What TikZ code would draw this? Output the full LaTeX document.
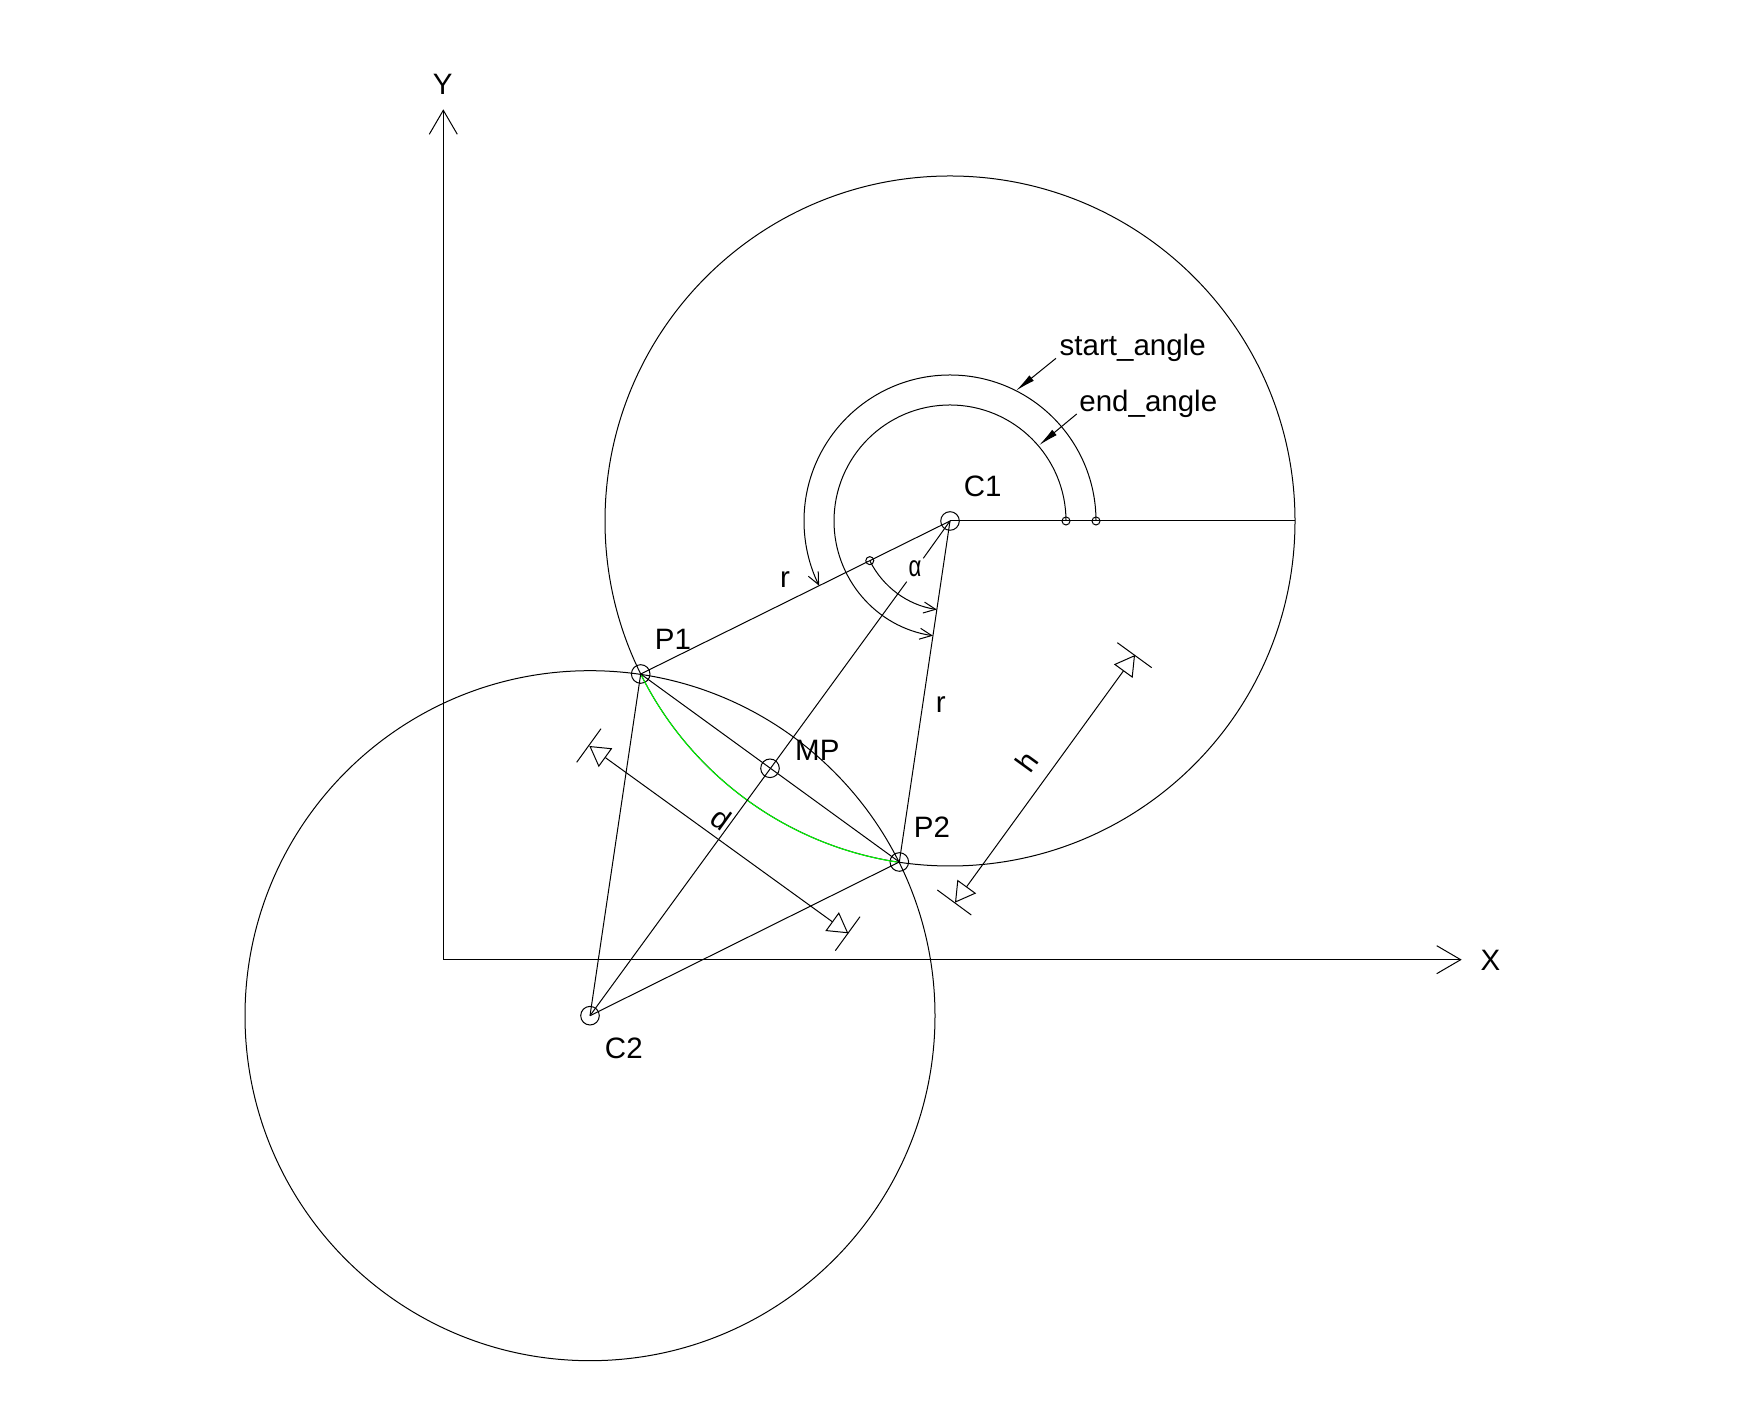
\documentclass[tikz,border=0pt]{standalone}
\usepackage{fontspec}
\setmainfont{Liberation Sans}
\usetikzlibrary{arrows.meta,calc}
\tikzset{
  ln/.style={line width=1pt,black},
  lbl/.style={inner sep=0pt,font=\fontsize{29.5}{32}\selectfont},
  pt/.style={draw,ln,circle,inner sep=0pt,minimum size=18.6pt},
  minipt/.style={draw,ln,circle,inner sep=0pt,minimum size=8pt},
  axisarrow/.style={ln,-{Straight Barb[length=24pt,width=28pt,line width=1pt]}},
  arcarrow/.style={ln,-{Straight Barb[length=12pt,width=11pt,line width=1pt]}},
  leader/.style={ln,-{Latex[length=20pt,width=7pt]}},
  dimarrow/.style={ln,{Triangle[open,length=20pt,width=23pt,line width=1pt]}-{Triangle[open,length=20pt,width=23pt,line width=1pt]}}
}
\begin{document}
\begin{tikzpicture}[x=1pt,y=1pt]
\useasboundingbox[fill=white] (0,0) rectangle (1747,1426);
% points
\coordinate (O) at (443.3,466.3);
\coordinate (Ytip) at (443.3,1316.7);
\coordinate (Xtip) at (1461.7,466.3);
\coordinate (E) at (1295,905);
\node[pt] (C1) at (950,905) {};
\node[pt] (C2) at (590,410.3) {};
\node[pt] (P1) at (640.7,752) {};
\node[pt] (P2) at (899.3,564) {};
\node[pt] (MP) at (770,657.7) {};
\node[minipt] (S1) at (1096,905) {};
\node[minipt] (S2) at (1066,905) {};
\node[minipt] (S3) at ($(C1.center)+(206.3:89.5)$) {};
% axes
\draw[axisarrow] (O) -- (Ytip);
\draw[axisarrow] (O) -- (Xtip);
% main circles
\draw[ln] (C1.center) circle (345);
\draw[ln] (C2.center) circle (345);
% green arc
\draw[line width=1pt,color={rgb,255:red,0;green,255;blue,0}] (P1.center) arc[start angle=206.3,end angle=261.5,radius=345];
% radii and chords
\draw[ln] (C1.center) -- (E);
\draw[ln] (C1.center) -- (P1.center);
\draw[ln] (C1.center) -- (P2.center);
\draw[ln] (C2.center) -- (P1.center);
\draw[ln] (C2.center) -- (P2.center);
\draw[ln] (P1.center) -- (P2.center);
\coordinate (G1) at (906.7,844.3);
\coordinate (G2) at (923.3,867.7);
\draw[ln] (C2.center) -- (G1);
\draw[ln] (G2) -- (C1.center);
% angle arcs
\draw[arcarrow] (S1.center) arc[start angle=0,end angle=206.3,radius=146];
\draw[arcarrow] (S2.center) arc[start angle=0,end angle=261.5,radius=116];
\draw[arcarrow] (S3.center) arc[start angle=206.3,end angle=261.5,radius=89.5];
% leaders
\coordinate (LA) at (1056,1067.7);
\coordinate (LAt) at (1016,1035.3);
\coordinate (LB) at (1076.7,1012);
\coordinate (LBt) at (1039,980.7);
\draw[leader] (LA) -- (LAt);
\draw[leader] (LB) -- (LBt);
% dimension d
\coordinate (D1) at (589.3,680);
\coordinate (D2) at (848.3,492.7);
\coordinate (D1a) at (601,697.3);
\coordinate (D1b) at (576.7,663.7);
\coordinate (D2a) at (860,509.3);
\coordinate (D2b) at (835.3,475.3);
\draw[dimarrow] (D1) -- (D2);
\draw[ln] (D1a) -- (D1b);
\draw[ln] (D2a) -- (D2b);
% dimension h
\coordinate (H1) at (1135,771);
\coordinate (H2) at (955,523.3);
\coordinate (H1a) at (1117.3,783.3);
\coordinate (H1b) at (1151.7,758.3);
\coordinate (H2a) at (937.3,536);
\coordinate (H2b) at (971.3,511);
\draw[dimarrow] (H1) -- (H2);
\draw[ln] (H1a) -- (H1b);
\draw[ln] (H2a) -- (H2b);
% labels
\node[lbl] (tY) at (442.7,1342) {Y};
\node[lbl] (tX) at (1490.5,465.5) {X};
\node[lbl] (tC1) at (982.7,940) {C1};
\node[lbl] (tC2) at (623.8,377.5) {C2};
\node[lbl] (tP1) at (673,786.5) {P1};
\node[lbl] (tP2) at (932,598.3) {P2};
\node[lbl] (tMP) at (817.3,676) {MP};
\node[lbl] (tr1) at (785,846) {r};
\node[lbl] (tr2) at (940.7,721.5) {r};
\node[lbl] (ta) at (915,857) {\scalebox{0.75}[1]{α}};
\node[lbl,rotate=-35.8] (td) at (721.7,607.5) {d};
\node[lbl,rotate=54] (th) at (1026.7,664) {h};
\node[lbl] (ts) at (1132.7,1078.5) {start\_angle};
\node[lbl] (te) at (1148.3,1022) {end\_angle};
\end{tikzpicture}
\end{document}
